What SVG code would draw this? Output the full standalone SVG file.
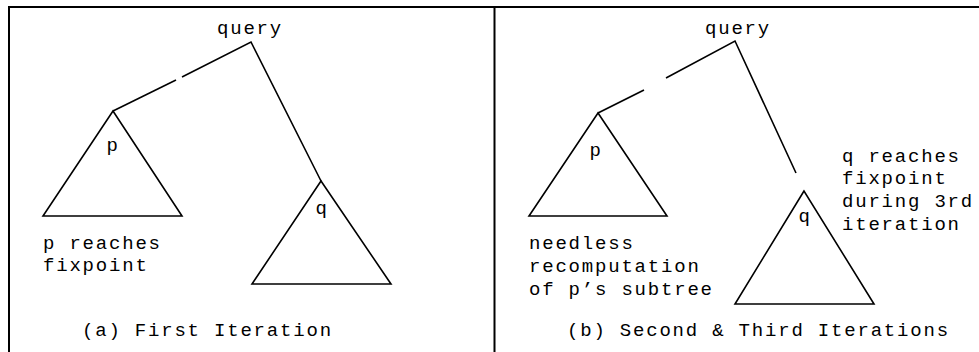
<svg xmlns="http://www.w3.org/2000/svg" width="979" height="352" viewBox="0 0 979 352">
<style>
.t{font-family:"Liberation Mono","Courier New",monospace;font-size:19px;letter-spacing:1.8px;fill:#000}
.m{text-anchor:middle}
.l{fill:none;stroke:#000;stroke-width:1.6;stroke-linejoin:miter}
.f{fill:none;stroke:#000;stroke-width:2}
</style>
<rect width="979" height="352" fill="#fff"/>
<g id="frame">
<line class="f" x1="8" y1="7" x2="979" y2="7"/>
<line class="f" x1="9" y1="6" x2="9" y2="352"/>
<line class="f" x1="494.5" y1="6" x2="494.5" y2="352"/>
</g>
<g id="connectors">
<polyline class="l" points="176,80 113,111"/>
<polyline class="l" points="182,77 251,42 321,181"/>
<polyline class="l" points="644,90 598,113"/>
<polyline class="l" points="666,78 735,41 796,173"/>
</g>
<g id="a-query"><text class="t m" x="250" y="34">query</text></g>
<g id="a-p">
<polygon class="l" points="113,111 43,216 182,216"/>
<text class="t m" x="113" y="151">p</text>
</g>
<g id="a-q">
<polygon class="l" points="321,181 252,284 391,284"/>
<text class="t m" x="322" y="214">q</text>
</g>
<g id="a-notes">
<text class="t" x="43" y="249">p reaches</text>
<text class="t" x="43" y="271">fixpoint</text>
<text class="t" x="82" y="336">(a) First Iteration</text>
</g>
<g id="b-query"><text class="t m" x="738" y="34">query</text></g>
<g id="b-p">
<polygon class="l" points="598,113 529,216 667,216"/>
<text class="t m" x="596" y="156">p</text>
</g>
<g id="b-q">
<polygon class="l" points="804,191 735,304 874,304"/>
<text class="t m" x="805" y="222">q</text>
</g>
<g id="b-notes">
<text class="t" x="842" y="162">q reaches</text>
<text class="t" x="842" y="184">fixpoint</text>
<text class="t" x="842" y="207">during 3rd</text>
<text class="t" x="842" y="230">iteration</text>
<text class="t" x="529" y="249">needless</text>
<text class="t" x="529" y="272">recomputation</text>
<text class="t" x="529" y="295">of p’s subtree</text>
<text class="t" x="567" y="336">(b) Second &amp; Third Iterations</text>
</g>
</svg>
